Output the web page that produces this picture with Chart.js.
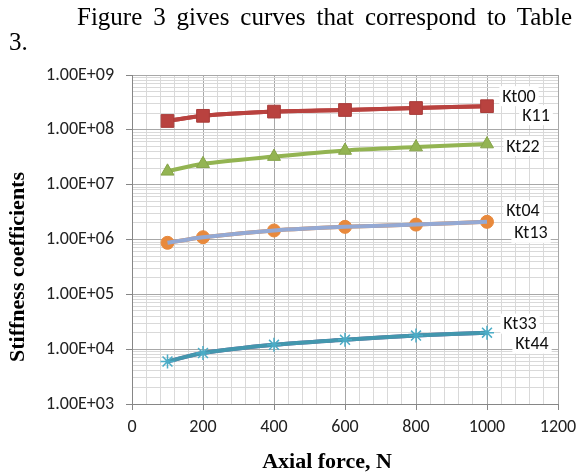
<!DOCTYPE html>
<html>
<head>
<meta charset="utf-8">
<script src="https://cdn.jsdelivr.net/npm/chart.js@4.4.0/dist/chart.umd.min.js"></script>
<style>
  html, body { margin: 0; padding: 0; background: #fff; }
  #wrap { position: relative; width: 584px; height: 476px; overflow: hidden; }
  #intro {
    position: absolute; left: 9px; top: 4px; width: 563px; z-index: 2;
    font: 25px "Liberation Serif", "Times New Roman", serif;
    line-height: 25px; color: #000;
  }
  #intro .first { text-align: justify; text-align-last: justify; padding-left: 68px; }
  canvas { position: absolute; left: 0; top: 0; }
</style>
</head>
<body>
<div id="wrap">
  <div id="intro"><div class="first">Figure 3 gives curves that correspond to Table</div><div>3.</div></div>
  <canvas id="chart" width="584" height="476"></canvas>
</div>
<script>
const forces = [100, 200, 400, 600, 800, 1000];
const kt00 = [1.45e8, 1.8e8, 2.15e8, 2.3e8, 2.5e8, 2.7e8];
const k11 = [1.45e8, 1.8e8, 2.15e8, 2.3e8, 2.5e8, 2.7e8];
const kt22 = [1.75e7, 2.4e7, 3.25e7, 4.2e7, 4.85e7, 5.5e7];
const kt04 = [8.7e5, 1.1e6, 1.46e6, 1.7e6, 1.87e6, 2.1e6];
const kt13 = [8.7e5, 1.1e6, 1.46e6, 1.7e6, 1.87e6, 2.1e6];
const kt33 = [5.95e3, 8.5e3, 1.2e4, 1.48e4, 1.77e4, 2.0e4];
const kt44 = [5.95e3, 8.5e3, 1.2e4, 1.48e4, 1.77e4, 2.0e4];
const yDecades = [3, 4, 5, 6, 7, 8, 9];
const xTitle = "Axial force, N";
const yTitle = "Stiffness coefficients";

const tickFont = { family: "Carlito, Calibri, Lato, sans-serif", size: 18 };
const titleFontCss = "bold 22px 'Liberation Serif', 'Times New Roman', serif";

function points(values) {
  return forces.map((f, i) => ({ x: f, y: values[i] }));
}

function isDecade(v) {
  const l = Math.log10(v);
  return Math.abs(l - Math.round(l)) < 1e-9;
}

function sci(v) {
  const e = Math.round(Math.log10(v));
  const m = v / Math.pow(10, e);
  return `${m.toFixed(2)}E+${String(e).padStart(2, "0")}`;
}

// labels at the end of each curve, white boxes like excel data labels
const endLabels = {
  id: "endLabels",
  afterDatasetsDraw(chart) {
    const { ctx } = chart;
    ctx.save();
    ctx.font = `${tickFont.size}px ${tickFont.family}`;
    ctx.textAlign = "center";
    ctx.textBaseline = "middle";
    chart.data.datasets.forEach((ds, i) => {
      const meta = chart.getDatasetMeta(i);
      const pt = meta.data[meta.data.length - 1];
      if (!pt) return;
      const [dx, dy] = ds.labelOffset;
      const x = pt.x + dx;
      const y = pt.y + dy;
      const w = ctx.measureText(ds.label).width + 6;
      ctx.fillStyle = "#fff";
      ctx.fillRect(x - w / 2, y - 10, w, 20);
      ctx.fillStyle = "#111";
      ctx.fillText(ds.label, x, y + 1);
    });
    ctx.restore();
  },
};

// axis titles sit off-centre in the original, so draw them by hand
const axisTitles = {
  id: "axisTitles",
  afterDraw(chart) {
    const { ctx } = chart;
    ctx.save();
    ctx.font = titleFontCss;
    ctx.fillStyle = "#000";
    ctx.textAlign = "center";
    ctx.textBaseline = "alphabetic";
    ctx.fillText(xTitle, 327, 468);
    ctx.translate(24, 267);
    ctx.rotate(-Math.PI / 2);
    ctx.fillText(yTitle, 0, 0);
    ctx.restore();
  },
};

function series(label, values, color, extra) {
  return Object.assign({
    label,
    data: points(values),
    borderColor: color,
    backgroundColor: color,
    borderWidth: 4,
    tension: 0.3,
    pointRadius: 0,
    pointBorderWidth: 1,
  }, extra);
}

new Chart(document.getElementById("chart"), {
  type: "line",
  plugins: [endLabels, axisTitles],
  data: {
    datasets: [
      series("Kt00", kt00, "#B9423F", { order: 2, pointStyle: "rect", pointRadius: 9, pointBorderColor: "#A83C39", labelOffset: [32, -10] }),
      series("K11", k11, "#B9423F", { order: 3, labelOffset: [49, 9] }),
      series("Kt22", kt22, "#93B452", { order: 4, pointStyle: "triangle", pointRadius: 7.5, pointBorderColor: "#86A44A", labelOffset: [36, 2] }),
      series("Kt04", kt04, "#E8893C", { order: 6, pointStyle: "circle", pointRadius: 6.5, labelOffset: [36, -11] }),
      series("Kt13", kt13, "#94A9D4", { order: 5, labelOffset: [44, 11] }),
      series("Kt33", kt33, "#4397AE", { order: 7, pointStyle: "star", pointRadius: 7, pointBorderWidth: 1.5, pointBorderColor: "#4BACC6", labelOffset: [33, -9] }),
      series("Kt44", kt44, "#7E6198", { order: 8, labelOffset: [45, 11] }),
    ],
  },
  options: {
    responsive: false,
    animation: false,
    layout: { padding: { top: 75, right: 26, bottom: 0, left: 0 } },
    plugins: { legend: { display: false }, tooltip: { enabled: false } },
    scales: {
      x: {
        type: "linear",
        min: 0,
        max: 1200,
        afterFit: (scale) => { scale.height = 72; },
        ticks: {
          stepSize: 40,
          autoSkip: false,
          maxRotation: 0,
          padding: 7,
          color: "#222",
          font: tickFont,
          callback: (v) => (v % 200 === 0 ? String(v) : ""),
        },
        grid: {
          color: (c) => (c.tick && c.tick.value % 200 === 0 ? "#A8A8A8" : "#D9D9D9"),
          tickColor: (c) => (c.tick && c.tick.value % 200 === 0 ? "#868686" : "rgba(0,0,0,0)"),
          tickLength: 6,
        },
        border: { color: "#868686" },
      },
      y: {
        type: "logarithmic",
        min: 1e3,
        max: 1e9,
        afterFit: (scale) => { scale.width = 132; },
        afterBuildTicks: (scale) => {
          const ticks = [];
          yDecades.forEach((e) => {
            const steps = e === 9 ? [1] : [1, 2, 3, 4, 5, 6, 7, 8, 9];
            steps.forEach((m) => ticks.push({ value: m * Math.pow(10, e) }));
          });
          scale.ticks = ticks;
        },
        ticks: {
          autoSkip: false,
          padding: 12,
          color: "#222",
          font: tickFont,
          callback: (v) => (isDecade(v) ? sci(v) : ""),
        },
        grid: {
          color: (c) => (c.tick && isDecade(c.tick.value) ? "#A8A8A8" : "#D9D9D9"),
          tickColor: (c) => (c.tick && isDecade(c.tick.value) ? "#868686" : "rgba(0,0,0,0)"),
          tickLength: 6,
        },
        border: { color: "#868686" },
      },
    },
  },
});
</script>
</body>
</html>
